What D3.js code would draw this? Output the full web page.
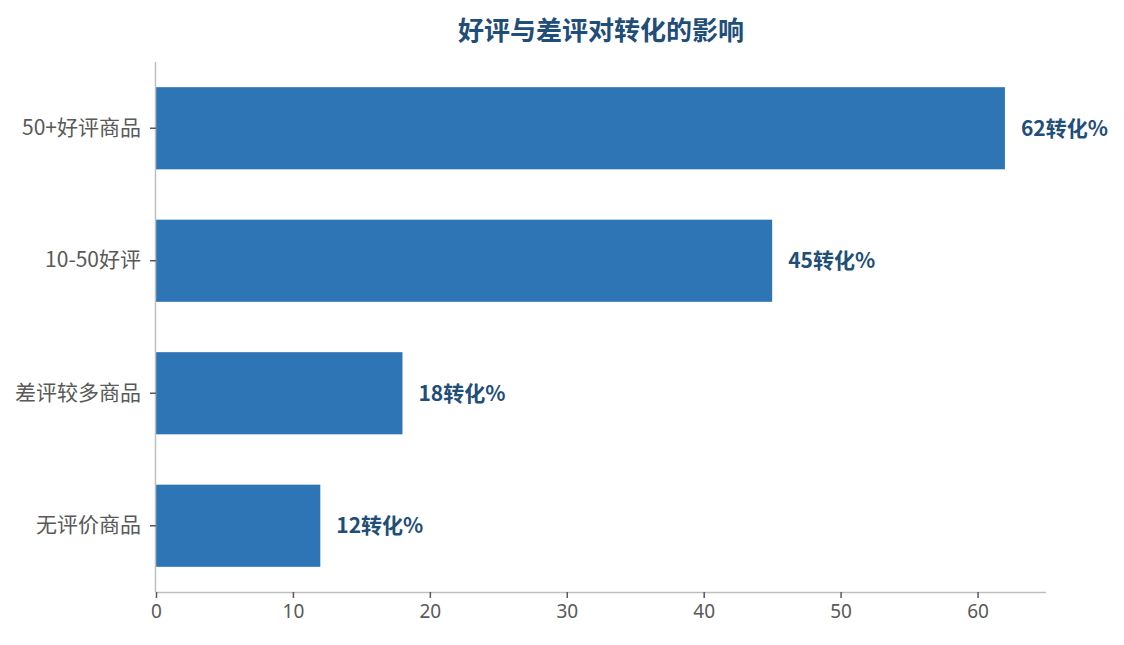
<!DOCTYPE html>
<html>
<head>
<meta charset="utf-8">
<script src="https://cdn.jsdelivr.net/npm/d3@7"></script>
<style>
  body { margin: 0; background: #fff; }
  text { font-family: "Noto Sans CJK SC", "Noto Sans", sans-serif; }
</style>
</head>
<body>
<div id="chart"></div>
<script>
// Values
const categories = ["50+好评商品", "10-50好评", "差评较多商品", "无评价商品"];
const conversion = [62, 45, 18, 12];
const xTicks = [0, 10, 20, 30, 40, 50, 60];
const titleText = "好评与差评对转化的影响";

const width = 1124, height = 645;
const margin = {top: 62, right: 78, bottom: 53, left: 156};
const innerW = width - margin.left - margin.right;
const innerH = height - margin.top - margin.bottom;

const svg = d3.select("#chart").append("svg")
    .attr("width", width)
    .attr("height", height);

const g = svg.append("g")
    .attr("transform", "translate(" + margin.left + "," + margin.top + ")");

// Scales
const xScale = d3.scaleLinear()
    .domain([0, 65])
    .range([0, innerW]);

const yScale = d3.scaleBand()
    .domain(categories)
    .range([0, innerH])
    .paddingInner(0.38)
    .paddingOuter(0.19);

// Bars
g.selectAll(".bar")
    .data(categories)
    .enter()
    .append("rect")
    .attr("class", "bar")
    .attr("x", xScale(0))
    .attr("y", d => yScale(d))
    .attr("width", (d, i) => xScale(conversion[i]) - xScale(0))
    .attr("height", yScale.bandwidth())
    .attr("fill", "#2e75b6");

// Value labels
g.selectAll(".value-label")
    .data(categories)
    .enter()
    .append("text")
    .attr("class", "value-label")
    .attr("x", (d, i) => xScale(conversion[i]) + 16)
    .attr("y", d => yScale(d) + yScale.bandwidth() / 2)
    .attr("dy", "0.35em")
    .attr("fill", "#1f4e79")
    .attr("font-size", "21px")
    .attr("font-weight", "bold")
    .text((d, i) => conversion[i] + "转化%");

// X axis
const xAxis = g.append("g")
    .attr("transform", "translate(0," + innerH + ")")
    .call(d3.axisBottom(xScale).tickValues(xTicks).tickSizeOuter(0).tickSize(6).tickPadding(7));
xAxis.select(".domain").attr("stroke", "#bfbfbf").attr("stroke-width", 1.5)
    .attr("d", "M0,0.5H" + innerW);
xAxis.selectAll(".tick line").attr("stroke", "#595959").attr("stroke-width", 1.5);
xAxis.selectAll(".tick text")
    .attr("fill", "#595959")
    .style("font-size", "19px")
    .style("font-family", "'Noto Sans', sans-serif");

// Y axis
const yAxis = g.append("g")
    .call(d3.axisLeft(yScale).tickSizeOuter(0).tickSize(6).tickPadding(9));
yAxis.select(".domain").attr("stroke", "#bfbfbf").attr("stroke-width", 1.5)
    .attr("d", "M-0.5,0V" + innerH);
yAxis.selectAll(".tick line").attr("stroke", "#595959").attr("stroke-width", 1.5);
yAxis.selectAll(".tick text")
    .attr("fill", "#595959")
    .style("font-size", "21px");

// Title
svg.append("text")
    .attr("x", margin.left + innerW / 2)
    .attr("y", 40)
    .attr("text-anchor", "middle")
    .attr("fill", "#1f4e79")
    .attr("font-size", "26px")
    .attr("font-weight", "bold")
    .text(titleText);
</script>
</body>
</html>
